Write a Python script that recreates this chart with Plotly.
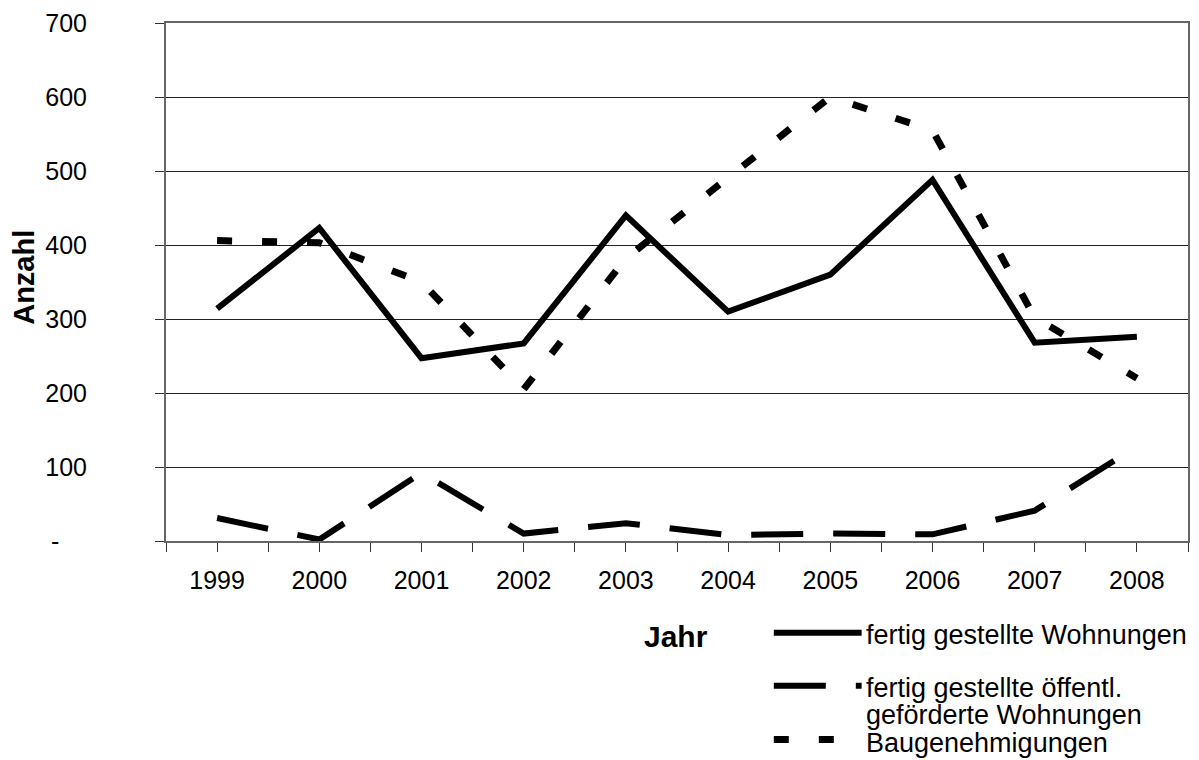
import plotly.graph_objects as go

years = ["1999", "2000", "2001", "2002", "2003", "2004", "2005", "2006", "2007", "2008"]
fertig = [314, 423, 247, 267, 440, 310, 360, 488, 268, 276]
oeffentl = [31, 2, 92, 10, 24, 8, 10, 9, 41, 128]
baugen = [406, 403, 350, 205, 382, 492, 600, 555, 302, 220]

y_ticks = [0, 100, 200, 300, 400, 500, 600, 700]
y_ticktext = ["-\u00a0\u00a0\u00a0\u00a0", "100", "200", "300", "400", "500", "600", "700"]

names = ["fertig gestellte Wohnungen",
         "fertig gestellte öffentl.<br>geförderte Wohnungen",
         "Baugenehmigungen"]

FONT = "Liberation Sans, Arial, sans-serif"
W, H = 1199, 760
ML, MR, MT, MB = 166, 9, 22, 219
PW, PH = W - ML - MR, H - MT - MB

def px(x):
    return (x - ML) / PW

def py(y):
    return (H - MB - y) / PH

xi = list(range(len(years)))

fig = go.Figure()
fig.add_trace(go.Scatter(x=xi, y=fertig, mode="lines", name=names[0],
                         line=dict(color="black", width=6), showlegend=False))
fig.add_trace(go.Scatter(x=xi, y=oeffentl, mode="lines", name=names[1],
                         line=dict(color="black", width=6, dash="52px,30px"), showlegend=False))
fig.add_trace(go.Scatter(x=xi, y=baugen, mode="lines", name=names[2],
                         line=dict(color="black", width=7, dash="15px,30px"), showlegend=False))

# custom legend samples
leg_y = [633, 686, 740]
dashes = ["solid", "52px,30px", "15px,30px"]
widths = [6, 6, 7]
for yy, d, w in zip(leg_y, dashes, widths):
    fig.add_shape(type="line", xref="paper", yref="paper",
                  x0=px(775), x1=px(863), y0=py(yy), y1=py(yy),
                  line=dict(color="black", width=w, dash=d))

leg_text = [("fertig gestellte Wohnungen", 635),
            ("fertig gestellte öffentl.", 688),
            ("geförderte Wohnungen", 715),
            ("Baugenehmigungen", 743)]
for t, yy in leg_text:
    fig.add_annotation(text=t, xref="paper", yref="paper", x=px(865), y=py(yy),
                       xanchor="left", yanchor="middle", showarrow=False,
                       font=dict(family=FONT, size=27, color="black"))

fig.add_annotation(text="<b>Jahr</b>", xref="paper", yref="paper", x=px(677), y=py(637),
                   xanchor="center", yanchor="middle", showarrow=False,
                   font=dict(family=FONT, size=30, color="black"))
fig.add_annotation(text="<b>Anzahl</b>", xref="paper", yref="paper", x=px(23), y=py(277),
                   xanchor="center", yanchor="middle", showarrow=False, textangle=-90,
                   font=dict(family=FONT, size=29, color="black"))

fig.update_layout(
    width=W, height=H,
    margin=dict(l=ML, r=MR, t=MT, b=MB),
    paper_bgcolor="white", plot_bgcolor="white",
    font=dict(family=FONT, size=25, color="black"),
    showlegend=False,
)
fig.update_xaxes(
    range=[-0.5, len(years) - 0.5],
    tickvals=xi, ticktext=years,
    ticks="outside", ticklen=9, tickwidth=1, tickcolor="#333",
    minor=dict(tick0=-0.5, dtick=1, ticks="outside", ticklen=9, tickwidth=1, tickcolor="#333", showgrid=False),
    showgrid=False, zeroline=False,
    showline=True, linecolor="#666", linewidth=2, mirror=True,
    ticklabelstandoff=7,
    tickfont=dict(family=FONT, size=25, color="black"),
)
fig.update_yaxes(
    range=[0, 700],
    tickvals=y_ticks, ticktext=y_ticktext,
    ticks="outside", ticklen=9, tickwidth=1, tickcolor="#333",
    showgrid=True, gridcolor="#222", gridwidth=1, zeroline=False,
    showline=True, linecolor="#666", linewidth=2, mirror=True,
    ticklabelstandoff=63,
    tickfont=dict(family=FONT, size=25, color="black"),
)

fig.write_html("out.html",
               config={"displayModeBar": False},
               post_script="document.body.style.margin='0';document.body.style.overflow='hidden';")
